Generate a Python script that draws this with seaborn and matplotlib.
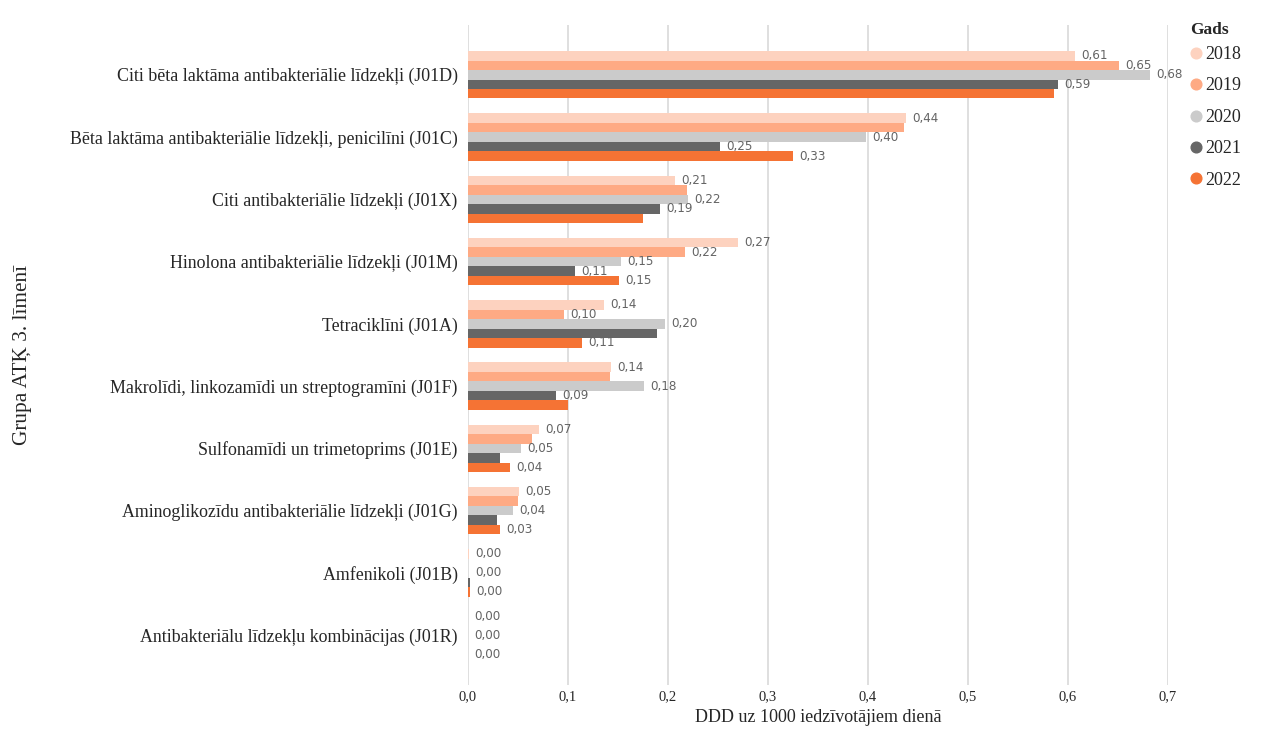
import numpy as np
import pandas as pd
import matplotlib.pyplot as plt
import seaborn as sns
from matplotlib.lines import Line2D

# dati
categories = [
    'Citi bēta laktāma antibakteriālie līdzekļi (J01D)',
    'Bēta laktāma antibakteriālie līdzekļi, penicilīni (J01C)',
    'Citi antibakteriālie līdzekļi (J01X)',
    'Hinolona antibakteriālie līdzekļi (J01M)',
    'Tetraciklīni (J01A)',
    'Makrolīdi, linkozamīdi un streptogramīni (J01F)',
    'Sulfonamīdi un trimetoprims (J01E)',
    'Aminoglikozīdu antibakteriālie līdzekļi (J01G)',
    'Amfenikoli (J01B)',
    'Antibakteriālu līdzekļu kombinācijas (J01R)',
]
years = ['2018', '2019', '2020', '2021', '2022']

v2018 = [0.607, 0.438, 0.207, 0.270, 0.136, 0.143, 0.071, 0.0505, 0.0005, 0.0001]
v2019 = [0.651, 0.436, 0.219, 0.217, 0.096, 0.142, 0.064, 0.0499, 0.0003, 0.0001]
v2020 = [0.682, 0.398, 0.220, 0.153, 0.197, 0.176, 0.0525, 0.0449, 0.0004, 0.0001]
v2021 = [0.590, 0.252, 0.192, 0.107, 0.189, 0.088, 0.0315, 0.0294, 0.0015, 0.0001]
v2022 = [0.586, 0.325, 0.175, 0.151, 0.114, 0.0997, 0.042, 0.032, 0.0015, 0.0001]

# kuras vērtības ir parakstītas diagrammā
show2018 = [1, 1, 1, 1, 1, 1, 1, 1, 1, 1]
show2019 = [1, 0, 0, 1, 1, 0, 0, 0, 0, 0]
show2020 = [1, 1, 1, 1, 1, 1, 1, 1, 1, 1]
show2021 = [1, 1, 1, 1, 0, 1, 0, 0, 0, 0]
show2022 = [0, 1, 0, 1, 1, 0, 1, 1, 1, 1]

colors = ['#FDD2BF', '#FEAA84', '#CBCBCB', '#666666', '#F57334']

values = [v2018, v2019, v2020, v2021, v2022]
shows = [show2018, show2019, show2020, show2021, show2022]

df = pd.DataFrame({
    'Grupa': categories * len(years),
    'Gads': np.repeat(years, len(categories)),
    'DDD': np.concatenate(values),
})

sns.set_style('white')
plt.rcParams['font.family'] = ['Liberation Serif', 'DejaVu Serif']

fig = plt.figure(figsize=(12.87, 7.46), dpi=100)
ax = fig.add_axes([468 / 1287, 1 - 685 / 746, 700 / 1287, 660 / 746])

sns.barplot(
    data=df, y='Grupa', x='DDD', hue='Gads',
    order=categories, hue_order=years, palette=colors,
    orient='h', width=0.76, saturation=1, legend=False,
    linewidth=0, ax=ax,
)

# vērtību paraksti
for cont, vals, show in zip(ax.containers, values, shows):
    for bar, v, s in zip(cont, vals, show):
        if not s:
            continue
        ax.text(bar.get_width() + 0.0065, bar.get_y() + bar.get_height() / 2,
                f'{v:.2f}'.replace('.', ','), va='center', ha='left',
                fontsize=9.5, color='#646464', family='DejaVu Sans',
                fontstretch='condensed', clip_on=False)

ax.set_xlim(0, 0.7)
ax.set_ylim(9.8, -0.8)
ticks = np.arange(0, 0.71, 0.1)
ax.set_xticks(ticks)
ax.set_xticklabels([f'{t:.1f}'.replace('.', ',') for t in ticks], fontsize=10.5)
ax.tick_params(axis='x', length=0, pad=4)
ax.tick_params(axis='y', length=0, pad=7.5, labelsize=12.9)
ax.grid(axis='x', color='#d9d9d9', linewidth=1.2)
ax.set_axisbelow(True)
ax.set_ylabel('')
ax.set_xlabel('DDD uz 1000 iedzīvotājiem dienā', fontsize=13)
ax.xaxis.set_label_coords(0.5, -24 / 660)
sns.despine(ax=ax, left=True, bottom=True)

fig.text(22 / 1287, 1 - 355 / 746, 'Grupa ATĶ 3. līmenī',
         ha='center', va='center', rotation=90, fontsize=15.3)

# leģenda
fig.text(1190 / 1287, 1 - 30 / 746, 'Gads', ha='left', va='center',
         fontsize=12.5, fontweight='bold')
handles = [Line2D([0], [0], marker='o', linestyle='', markersize=7.7,
                  markerfacecolor=c, markeredgecolor=c) for c in colors]
fig.legend(handles, years, loc='upper left',
           bbox_to_anchor=(1190 / 1287, 1 - 46 / 746), frameon=False,
           fontsize=13, borderpad=0, borderaxespad=0,
           handlelength=0.7, handletextpad=0.15, labelspacing=0.8)

plt.savefig('out.png', dpi=100)
